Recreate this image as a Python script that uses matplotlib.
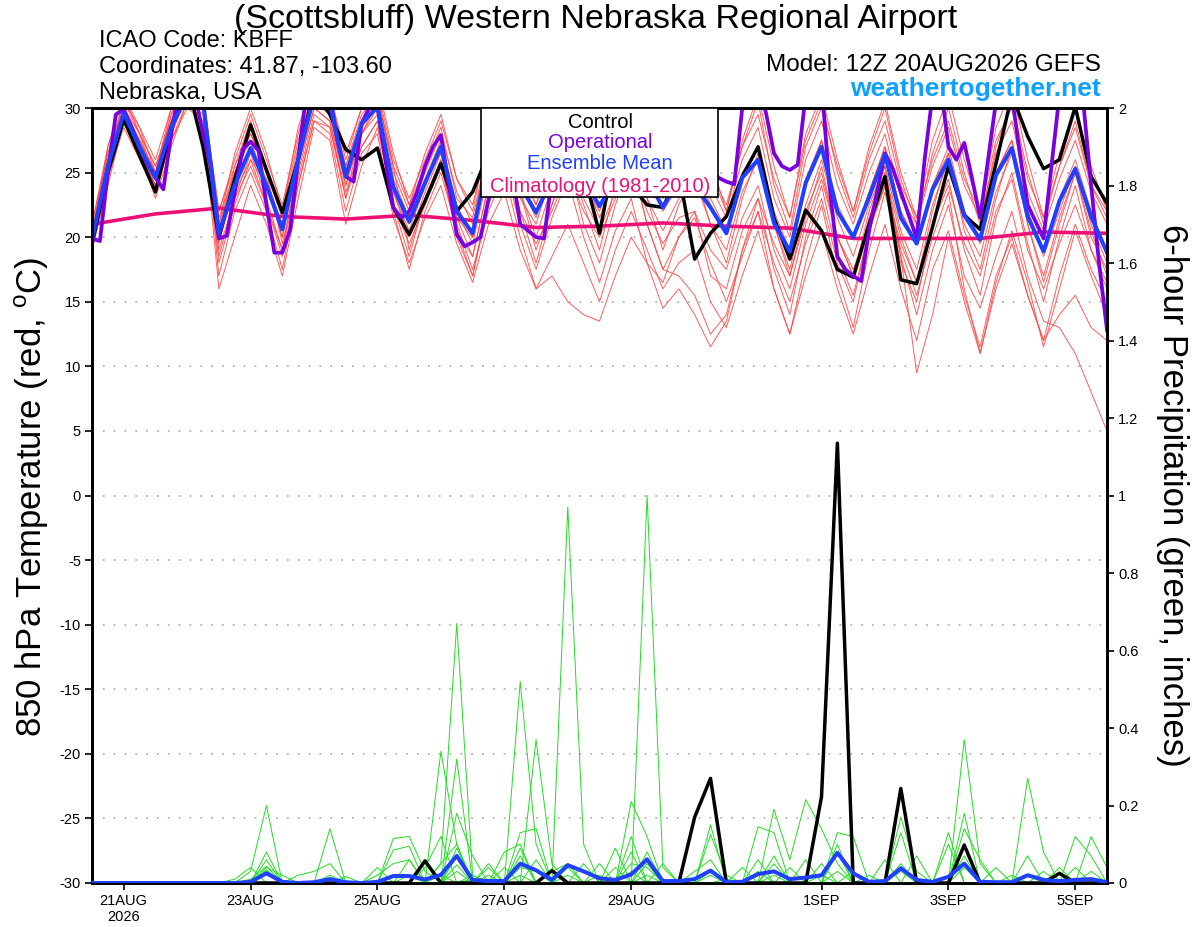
import numpy as np
import matplotlib
matplotlib.use("Agg")
import matplotlib.pyplot as plt
from matplotlib.patches import Rectangle

plt.rcParams['font.family'] = ['Liberation Sans', 'DejaVu Sans']
plt.rcParams['mathtext.fontset'] = 'custom'
plt.rcParams['mathtext.rm'] = 'Liberation Sans'

# ---------------- data ----------------
# forecast hours from 12Z 20AUG2026, 6-hourly (0..384)
hours6 = np.arange(65) * 6
hours3 = np.arange(129) * 3
clim_hours = np.arange(17) * 24

xtick_hours = [12, 60, 108, 156, 204, 276, 324, 372]
xtick_labels = ['21AUG\n2026', '23AUG', '25AUG', '27AUG', '29AUG', '1SEP', '3SEP', '5SEP']
temp_ticks = [30, 25, 20, 15, 10, 5, 0, -5, -10, -15, -20, -25, -30]
precip_ticks = [0, 0.2, 0.4, 0.6, 0.8, 1.0, 1.2, 1.4, 1.6, 1.8, 2.0]
precip_tick_labels = ['0', '0.2', '0.4', '0.6', '0.8', '1', '1.2', '1.4', '1.6', '1.8', '2']

control_t = [19.5, 25, 29.1, 26.3, 23.5, 28.5, 32, 27,
             20.0, 24.5, 28.7, 25.2, 21.9, 26, 31.5, 29.5,
             26.8, 26.0, 26.9, 22.3, 20.2, 22.8, 25.7, 22.0,
             23.5, 26.5, 28, 27, 26, 25, 27, 25,
             20.3, 26.7, 24, 22.5, 22.3, 25, 18.3, 20.3,
             21.6, 24.7, 27.0, 21.5, 18.3, 22.1, 20.5, 17.5,
             16.9, 21.0, 24.7, 16.7, 16.4, 20.8, 25.5, 21.7,
             20.6, 25.7, 31, 27.8, 25.3, 26.0, 30.1, 24.7,
             22.6]

mean_t = [19.8, 25.5, 29.6, 27.0, 24.6, 28.5, 31.0, 30.5,
          20.3, 24.0, 26.9, 24.0, 20.6, 26.0, 31.0, 30.3,
          24.7, 28.8, 30.1, 23.9, 21.2, 24.2, 27.0, 22.0,
          20.3, 26.0, 28.0, 24.0, 21.9, 24.5, 27.0, 24.5,
          22.4, 24.5, 27.0, 24.5, 22.3, 24.5, 24.0, 22.3,
          20.3, 24.6, 26.0, 21.1, 18.9, 24.2, 27.0, 22.0,
          20.0, 23.1, 26.4, 21.5, 19.5, 23.7, 26.0, 21.7,
          19.8, 24.8, 26.9, 21.6, 18.9, 22.8, 25.3, 21.6,
          18.8]

operational_t = [19.9, 19.7, 25, 29.5, 29.9, 28.5, 27, 25.6, 24.6, 23.7,
                 28, 31.5, 32, 31, 28, 25.5, 19.9, 20.1, 23.5, 26.8,
                 27.4, 26.7, 22.5, 18.8, 18.8, 20.6, 26, 31, 32, 32,
                 31, 27.3, 24.7, 24.3, 28.8, 30.1, 30.1, 26, 22.3, 21.5,
                 22, 23.5, 25.5, 27, 27.9, 24, 20.2, 19.3, 19.6, 20,
                 22.9, 27, 29, 25, 21, 20.5, 20.0, 19.9, 24.5, 27,
                 28, 27, 25, 24, 25, 27, 29, 28, 26, 25,
                 26, 28, 29, 27, 25.5, 25, 26, 27, 25.5, 24.6,
                 24.3, 24.1, 30, 32, 32, 29.6, 26.5, 25.5, 25.2, 25.6,
                 31, 32, 32, 24, 18.5, 17.5, 17.0, 16.6, 20.5, 23.5,
                 26.5, 25.3, 23.5, 21.7, 19.9, 26, 31, 32, 27, 26,
                 27.3, 24.5, 21.5, 26, 30.5, 32, 31, 26.5, 22.5, 21.2,
                 19.9, 25.5, 31, 32, 32, 30.5, 24, 18, 12.8]

climatology_t = [21.0, 21.8, 22.25, 21.6, 21.4, 21.7, 21.3, 20.75, 20.85,
                 21.1, 20.85, 20.7, 19.9, 19.9, 19.9, 20.4, 20.3]

member_t_01 = [20.5, 26, 30.5, 28, 25.5, 29, 32, 30, 21.5, 25, 28, 25, 21.5, 27, 31.5, 30,
               25.5, 29, 31, 25, 22, 25, 28, 23.5, 21, 27, 29.5, 25, 22.5, 26, 29, 26,
               23.5, 26, 28.5, 26, 23, 26, 27.5, 24, 21.5, 26, 28.5, 23, 20, 26, 29, 24,
               21, 25, 28, 23, 21, 25.5, 28.5, 24, 21.5, 26.5, 29, 23.5, 20.5, 24.5, 27.5, 23.5, 21]
member_t_02 = [19, 24.5, 28.5, 26, 23.5, 27.5, 30, 29, 18.5, 23, 25.5, 22.5, 19, 24.5, 29.5, 28.5,
               23, 27, 29, 22.5, 19.5, 22.5, 25.5, 20.5, 18.5, 24, 26, 22, 19.5, 22, 25, 22,
               20, 23, 25.5, 22, 19.5, 21.5, 22, 19, 17.5, 21.5, 24, 19, 16, 21, 24.5, 20,
               17.5, 21, 24, 19.5, 16.5, 21, 24, 19.5, 17, 22, 24.5, 19, 16, 19.5, 22.5, 19, 16.5]
member_t_03 = [20, 27, 31, 28.5, 25, 30, 32.5, 31.5, 21, 26.5, 30, 26.5, 22, 28.5, 32, 31,
               26, 30, 32, 26.5, 22.5, 26.5, 29.5, 24.5, 22, 28, 31, 27, 23, 28, 31, 27.5,
               24, 28, 30.5, 27, 24, 28, 30, 26, 22, 27.5, 31, 25.5, 21.5, 28, 31, 26,
               22, 27, 30.5, 25, 21.5, 27.5, 31, 26, 22, 28.5, 31.5, 26, 21.5, 26.5, 30, 25.5, 22]
member_t_04 = [19.5, 25, 29, 26.5, 24, 28, 31, 30, 17, 22, 25, 22, 17.5, 24, 29, 28,
               22, 26.5, 28, 21.5, 18, 21.5, 24, 19.5, 16.5, 21, 23.5, 19, 16, 18.5, 21, 18,
               15, 19, 22, 19, 16, 18, 19, 15, 13, 17, 20.5, 16, 12.5, 17, 20.5, 16,
               12.5, 17, 21, 16, 12, 17.5, 20.5, 15.5, 11.5, 17, 20, 15.5, 12, 14, 15.5, 13, 12]
member_t_05 = [20, 25.5, 29.5, 27, 24.5, 28.5, 31, 30, 19.5, 24, 27, 24, 20, 26, 30.5, 29.5,
               24, 28.5, 30, 23.5, 20.5, 24, 27, 22, 19.5, 25, 27.5, 23.5, 20, 24, 27, 23,
               20.5, 23.5, 26, 21, 17.5, 17, 15.5, 12.5, 14, 19, 22, 18, 15, 19.5, 23, 18,
               15, 20.5, 24, 18.5, 14, 19, 22.5, 17, 14.5, 18.5, 22, 17, 13.5, 13, 11, 8, 5]
member_t_06 = [21, 26.5, 30, 27.5, 25, 29, 31.5, 30.5, 20, 23.5, 26, 24, 21, 26.5, 30.5, 29.5,
               25, 28, 30, 24.5, 21.5, 24.5, 26.5, 21.5, 20, 25.5, 28, 23, 21, 25, 28, 24,
               22, 25.5, 28, 24.5, 22, 24, 26, 23, 20.5, 24.5, 27, 22, 19, 24, 27.5, 22.5,
               20, 23.5, 27, 22, 19.5, 24, 27, 22, 19.5, 25, 27.5, 22, 18.5, 22, 25.5, 21, 18]
member_t_07 = [19, 24, 29, 26.5, 23, 27, 30.5, 29, 16, 20, 24, 21, 17, 23, 28.5, 27.5,
               21, 25.5, 28.5, 22.5, 18.5, 23, 26, 21, 17.5, 22, 25, 20, 16, 17, 15, 14,
               13.5, 17, 20, 18, 16.5, 20, 22, 17, 16, 20.5, 23, 19.5, 17, 22, 25, 20,
               17, 22, 25.5, 18.5, 9.5, 14, 20, 15, 11, 16, 19.5, 15.5, 12, 17, 21, 17.5, 15]
member_t_08 = [20, 26, 30, 27.5, 25, 29.5, 32, 31, 22, 25.5, 28, 25.5, 22, 27.5, 31.5, 30.5,
               25.5, 29.5, 31, 25.5, 22.5, 25.5, 28.5, 23, 21.5, 27, 29, 25.5, 22.5, 26, 29, 25,
               23, 27, 29.5, 25.5, 23, 27, 29.5, 25, 22, 27, 30.5, 24, 20.5, 27, 30, 25.5,
               22, 26.5, 30, 24.5, 21, 26.5, 30, 25, 21, 27, 30.5, 25, 21, 25.5, 29, 24, 21.5]
member_t_09 = [20, 25, 29.5, 27, 24, 28, 31, 30, 19, 23, 26.5, 23, 19, 25.5, 30, 29,
               24, 28, 29.5, 23.5, 20, 23.5, 26.5, 21.5, 18.5, 24, 27, 22, 18, 22.5, 26, 21,
               18, 22.5, 26, 21, 17.5, 20, 21.5, 18, 15, 18.5, 22, 16, 12.5, 18, 22.5, 17,
               13, 19, 23.5, 18, 15, 21, 24.5, 19, 15.5, 21.5, 25, 19.5, 15, 20, 24, 19, 16]
member_t_10 = [19.5, 25.5, 29, 26.5, 24, 27.5, 30.5, 29.5, 18, 22.5, 26, 22.5, 18.5, 24, 29, 28.5,
               23.5, 27, 29, 22, 17.5, 22, 25, 20.5, 17, 22.5, 25.5, 21, 17.5, 21.5, 24.5, 20,
               16.5, 20.5, 23, 18, 14.5, 16, 14, 11.5, 13.5, 19, 23, 17.5, 14, 20, 24, 18.5,
               15.5, 20.5, 24, 19, 15.5, 20, 23.5, 16, 11, 16.5, 20.5, 16.5, 11.5, 16, 20.5, 17, 14]
member_t_11 = [20.5, 25.5, 29.5, 27.5, 25, 28.5, 31, 30.5, 20.5, 24.5, 27, 24.5, 21, 26, 31, 30,
               25, 29, 30.5, 24, 21.5, 24.5, 27.5, 22, 20.5, 26, 28.5, 24.5, 22, 25, 27.5, 24.5,
               22.5, 25, 27.5, 24.5, 22.5, 25, 25.5, 22.5, 20.5, 25, 27, 21.5, 19, 24.5, 27.5, 22,
               20, 23.5, 27, 22, 19.5, 24, 26.5, 22, 20, 25, 27.5, 22, 19, 23, 26, 22, 19]
member_t_12 = [19.5, 26, 30, 28, 25.5, 29, 31.5, 30.5, 21, 25, 27.5, 24, 20, 26.5, 30.5, 29.5,
               24.5, 28, 30.5, 24, 21, 24, 27, 22.5, 20, 25.5, 28, 24, 21.5, 25.5, 28.5, 24.5,
               21.5, 24.5, 27, 23, 20.5, 23, 24.5, 21, 19, 23.5, 26, 21, 17.5, 22.5, 26, 21.5,
               18.5, 22.5, 25.5, 20.5, 17.5, 22.5, 26, 21, 18.5, 23.5, 26.5, 21, 17, 21.5, 25, 20.5, 17]
member_t_13 = [21, 27, 31, 28, 24.5, 29.5, 32, 31, 20.5, 25.5, 29, 25, 19.5, 25, 30, 29,
               23, 28.5, 31, 25.5, 19, 23, 26, 20, 17, 23, 27.5, 23.5, 19, 22.5, 26, 22.5,
               19, 24, 27.5, 23, 19, 22.5, 25, 21, 18, 23, 26.5, 21, 17, 21.5, 25.5, 20,
               17, 21.5, 25, 20, 16.5, 22, 26.5, 20.5, 17.5, 23, 27, 21, 16.5, 21, 25, 20, 17.5]
member_t_14 = [20.5, 26.5, 30.5, 28.5, 26, 30, 32, 31, 22, 26, 29.5, 26, 22.5, 28, 32, 31,
               26.5, 30, 31.5, 26, 23, 26, 29, 24.5, 22.5, 27.5, 30, 26.5, 23.5, 27, 30, 26,
               24, 27.5, 29, 26, 24, 26.5, 28.5, 25, 22.5, 27, 29.5, 24.5, 21.5, 27.5, 30.5, 25,
               21.5, 26, 29, 24, 21.5, 26, 29, 24.5, 22, 27.5, 30, 24.5, 21.5, 25.5, 28.5, 24, 22]

control_p = [0, 0, 0, 0, 0, 0, 0, 0, 0, 0,
             0, 0, 0, 0, 0, 0, 0, 0, 0, 0,
             0, 0.057, 0, 0, 0, 0, 0, 0, 0, 0.032,
             0, 0, 0, 0, 0, 0, 0, 0, 0.17, 0.27,
             0, 0, 0, 0, 0, 0, 0.223, 1.135, 0, 0,
             0, 0.244, 0, 0, 0, 0.098, 0, 0, 0, 0,
             0, 0.025, 0, 0, 0]
mean_p = [0, 0, 0, 0, 0, 0, 0, 0, 0, 0,
          0.003, 0.025, 0.003, 0, 0.002, 0.01, 0.002, 0, 0.003, 0.018,
          0.018, 0.009, 0.021, 0.07, 0.008, 0.005, 0.005, 0.05, 0.033, 0.008,
          0.046, 0.03, 0.012, 0.008, 0.022, 0.061, 0.005, 0.005, 0.01, 0.032,
          0.002, 0.003, 0.023, 0.03, 0.01, 0.014, 0.02, 0.078, 0.025, 0.003,
          0.005, 0.038, 0.008, 0.003, 0.016, 0.05, 0.003, 0.002, 0.002, 0.02,
          0.008, 0.005, 0.008, 0.01, 0.002]

member_p_01 = [0, 0, 0, 0, 0, 0, 0, 0, 0, 0,
               0.03, 0.2, 0, 0, 0, 0, 0, 0, 0, 0,
               0, 0, 0.05, 0.67, 0.02, 0, 0, 0, 0, 0,
               0.97, 0.1, 0, 0, 0, 0, 0, 0, 0, 0,
               0, 0, 0, 0.05, 0, 0, 0, 0, 0, 0,
               0, 0, 0, 0, 0, 0.37, 0.05, 0, 0, 0,
               0, 0, 0, 0, 0]
member_p_02 = [0, 0, 0, 0, 0, 0, 0, 0, 0, 0,
               0, 0, 0, 0, 0, 0, 0, 0, 0, 0.115,
               0.12, 0.03, 0, 0.32, 0, 0, 0, 0.52, 0.1, 0,
               0, 0, 0, 0, 0, 1.0, 0.04, 0, 0, 0,
               0, 0, 0, 0, 0, 0, 0, 0, 0, 0,
               0, 0, 0, 0, 0, 0, 0, 0, 0, 0.27,
               0.08, 0, 0, 0, 0]
member_p_03 = [0, 0, 0, 0, 0, 0, 0, 0, 0, 0,
               0, 0, 0, 0, 0, 0.14, 0, 0, 0, 0,
               0, 0, 0.34, 0.1, 0, 0, 0, 0, 0.37, 0.05,
               0, 0, 0, 0, 0.21, 0.12, 0, 0, 0, 0.15,
               0, 0, 0, 0, 0, 0, 0, 0, 0, 0,
               0, 0.17, 0.03, 0, 0, 0, 0, 0, 0, 0,
               0, 0, 0, 0, 0]
member_p_04 = [0, 0, 0, 0, 0, 0, 0, 0, 0, 0,
               0, 0.08, 0, 0, 0, 0, 0, 0, 0, 0,
               0, 0, 0, 0.18, 0.07, 0, 0, 0.13, 0.14, 0,
               0, 0, 0, 0.09, 0, 0, 0, 0, 0, 0,
               0, 0, 0, 0.19, 0.06, 0.215, 0.14, 0.05, 0, 0,
               0, 0, 0, 0, 0, 0, 0, 0, 0, 0,
               0, 0, 0, 0, 0]
member_p_05 = [0, 0, 0, 0, 0, 0, 0, 0, 0, 0,
               0, 0.06, 0, 0, 0, 0, 0, 0, 0, 0.085,
               0.095, 0, 0, 0, 0, 0, 0.08, 0.1, 0, 0,
               0, 0, 0, 0, 0, 0, 0.05, 0, 0, 0.125,
               0.02, 0, 0, 0, 0, 0, 0, 0.13, 0.12, 0,
               0, 0, 0, 0, 0, 0, 0, 0, 0, 0,
               0, 0, 0.12, 0.07, 0]
member_p_06 = [0, 0, 0, 0, 0, 0, 0, 0, 0, 0,
               0, 0.04, 0.02, 0, 0, 0, 0, 0, 0, 0,
               0, 0, 0.05, 0.1, 0, 0, 0, 0, 0, 0,
               0, 0, 0.05, 0, 0.12, 0, 0, 0, 0, 0,
               0, 0, 0.145, 0.13, 0, 0, 0, 0, 0, 0,
               0, 0, 0, 0, 0, 0.18, 0, 0, 0, 0.07,
               0, 0, 0, 0, 0]
member_p_07 = [0, 0, 0, 0, 0, 0, 0, 0, 0, 0.01,
               0.04, 0, 0, 0.02, 0.03, 0.05, 0, 0, 0, 0,
               0.06, 0, 0, 0.07, 0, 0.05, 0, 0.07, 0, 0.03,
               0.05, 0, 0, 0, 0, 0.05, 0, 0, 0, 0,
               0, 0.04, 0, 0, 0, 0, 0, 0.1, 0, 0,
               0, 0.13, 0, 0, 0.13, 0, 0, 0, 0, 0,
               0, 0, 0, 0.12, 0.04]
member_p_08 = [0, 0, 0, 0, 0, 0, 0, 0, 0, 0,
               0, 0, 0, 0, 0, 0, 0.017, 0, 0.04, 0,
               0, 0.04, 0.12, 0, 0.02, 0, 0.04, 0, 0.06, 0,
               0, 0.05, 0, 0, 0.08, 0, 0, 0, 0.03, 0.06,
               0, 0, 0.06, 0, 0, 0.06, 0, 0.08, 0, 0,
               0.06, 0, 0.07, 0, 0, 0.14, 0.06, 0, 0, 0,
               0, 0.04, 0, 0, 0]
member_p_09 = [0, 0, 0, 0, 0, 0, 0, 0, 0, 0,
               0, 0.03, 0, 0, 0, 0, 0, 0, 0.02, 0.05,
               0.06, 0, 0, 0.09, 0, 0.04, 0, 0.09, 0, 0,
               0.04, 0, 0, 0.04, 0, 0.08, 0, 0, 0, 0.03,
               0, 0, 0, 0.07, 0, 0, 0.05, 0, 0, 0.02,
               0, 0, 0, 0, 0.1, 0, 0, 0.04, 0, 0,
               0.03, 0, 0.04, 0, 0]
member_p_10 = [0, 0, 0, 0, 0, 0, 0, 0, 0, 0,
               0.01, 0.043, 0, 0, 0, 0.02, 0, 0, 0, 0,
               0, 0, 0, 0.047, 0, 0.02, 0, 0.04, 0.03, 0,
               0, 0, 0.02, 0, 0.05, 0.04, 0, 0, 0, 0,
               0.01, 0, 0, 0, 0.04, 0, 0, 0, 0.03, 0,
               0, 0.05, 0, 0, 0, 0.07, 0, 0, 0.02, 0,
               0, 0, 0, 0.03, 0]
member_p_11 = [0, 0, 0, 0, 0, 0, 0, 0, 0, 0,
               0, 0.034, 0, 0, 0, 0, 0, 0, 0, 0,
               0.02, 0, 0, 0.03, 0, 0, 0, 0.02, 0, 0,
               0, 0, 0, 0, 0.03, 0, 0, 0, 0, 0.02,
               0, 0, 0, 0.02, 0, 0, 0, 0.03, 0, 0,
               0, 0, 0, 0, 0, 0.04, 0, 0, 0, 0,
               0, 0, 0, 0, 0]
member_p_12 = [0, 0, 0, 0, 0, 0, 0, 0, 0, 0,
               0, 0, 0, 0, 0, 0, 0, 0, 0, 0,
               0, 0, 0.02, 0, 0.01, 0, 0, 0, 0, 0,
               0.02, 0, 0, 0, 0, 0.02, 0, 0, 0, 0,
               0, 0, 0.03, 0, 0, 0, 0.02, 0, 0, 0,
               0, 0.03, 0, 0, 0, 0, 0, 0, 0, 0.02,
               0, 0, 0, 0, 0]

temp_members = [member_t_01, member_t_02, member_t_03, member_t_04, member_t_05,
                member_t_06, member_t_07, member_t_08, member_t_09, member_t_10,
                member_t_11, member_t_12, member_t_13, member_t_14]
precip_members = [member_p_01, member_p_02, member_p_03, member_p_04, member_p_05,
                  member_p_06, member_p_07, member_p_08, member_p_09, member_p_10,
                  member_p_11, member_p_12]

# ---------------- styling ----------------
C_CONTROL = '#000000'
C_OPER = '#7a00e0'
C_MEAN = '#2040ff'
C_CLIM = '#ee1077'
C_RED = '#ff4040'
C_GREEN = '#22dd22'
C_SITE = '#10a0ff'

W, H = 1200, 927
fig = plt.figure(figsize=(W / 100, H / 100), dpi=100)
L, R, T, B = 92, 1107, 108, 883
ax = fig.add_axes([L / W, 1 - B / H, (R - L) / W, (B - T) / H])
ax2 = ax.twinx()

ax.set_xlim(0, 384)
ax.set_ylim(-30, 30)
ax2.set_ylim(0, 2)

# grid (dotted)
for v in temp_ticks[1:-1]:
    ax.axhline(v, color='#b4b4b4', lw=1.3, ls=(0, (1, 5)), zorder=0)

for m in temp_members:
    ax.plot(hours6, m, color=C_RED, lw=0.7, alpha=0.85, zorder=1)
ax.plot(clim_hours, climatology_t, color=C_CLIM, lw=2.6, zorder=3)
ax.plot(hours6, control_t, color=C_CONTROL, lw=2.5, zorder=4)
ax.plot(hours3, operational_t, color=C_OPER, lw=2.7, zorder=5)
ax.plot(hours6, mean_t, color=C_MEAN, lw=2.9, zorder=6)

for m in precip_members:
    ax2.plot(hours6, m, color=C_GREEN, lw=0.7, zorder=1)
ax2.plot(hours6, control_p, color=C_CONTROL, lw=2.5, zorder=4)
ax2.plot(hours6, mean_p, color=C_MEAN, lw=2.9, zorder=5)

# ticks
ax.set_xticks(xtick_hours)
ax.set_xticklabels(xtick_labels, fontsize=10.5)
ax.set_yticks(temp_ticks)
ax.set_yticklabels([str(v) for v in temp_ticks], fontsize=10.5)
ax2.set_yticks(precip_ticks)
ax2.set_yticklabels(precip_tick_labels, fontsize=10.5)
ax.tick_params(axis='x', direction='out', length=5, width=1.2, pad=3)
ax.tick_params(axis='y', direction='out', length=5, width=1.2, pad=3)
ax2.tick_params(axis='y', direction='out', length=5, width=1.2, pad=3)

for a in (ax, ax2):
    for s in a.spines.values():
        s.set_linewidth(2.0)
        s.set_color('black')

# legend box
lx0 = (481 - L) / (R - L)
lx1 = (718 - L) / (R - L)
ly0 = (B - 197) / (B - T)
ax2.add_patch(Rectangle((lx0, ly0), lx1 - lx0, 1 - ly0, transform=ax2.transAxes,
                        facecolor='white', edgecolor='black', lw=1.2, zorder=20,
                        clip_on=False))
cx = (600 - L) / (R - L)
for txt, col, ypx in [('Control', C_CONTROL, 122), ('Operational', C_OPER, 142),
                      ('Ensemble Mean', C_MEAN, 163),
                      ('Climatology (1981-2010)', C_CLIM, 186)]:
    ax2.text(cx, (B - ypx) / (B - T), txt, color=col, fontsize=14.5, ha='center',
             va='center', transform=ax2.transAxes, zorder=21)

# titles and header text
def ftext(xp, yp, s, **kw):
    fig.text(xp / W, 1 - yp / H, s, **kw)

ftext(596, 28, '(Scottsbluff) Western Nebraska Regional Airport', ha='center',
      va='baseline', fontsize=24.5)
ftext(99, 47, 'ICAO Code: KBFF', ha='left', va='baseline', fontsize=17)
ftext(99, 73, 'Coordinates: 41.87, -103.60', ha='left', va='baseline', fontsize=17)
ftext(99, 99, 'Nebraska, USA', ha='left', va='baseline', fontsize=17)
ftext(1101, 71, 'Model: 12Z 20AUG2026 GEFS', ha='right', va='baseline', fontsize=17.5)
ftext(1101, 96, 'weathertogether.net', ha='right', va='baseline', fontsize=19,
      fontweight='bold', color=C_SITE)

ftext(32, 497, r'850 hPa Temperature (red, $^{\mathrm{o}}$C)', rotation=90,
      ha='center', va='center', fontsize=25)
ftext(1172, 495, '6-hour Precipitation (green, inches)', rotation=-90,
      ha='center', va='center', fontsize=25)

fig.savefig('out.png', dpi=100)
